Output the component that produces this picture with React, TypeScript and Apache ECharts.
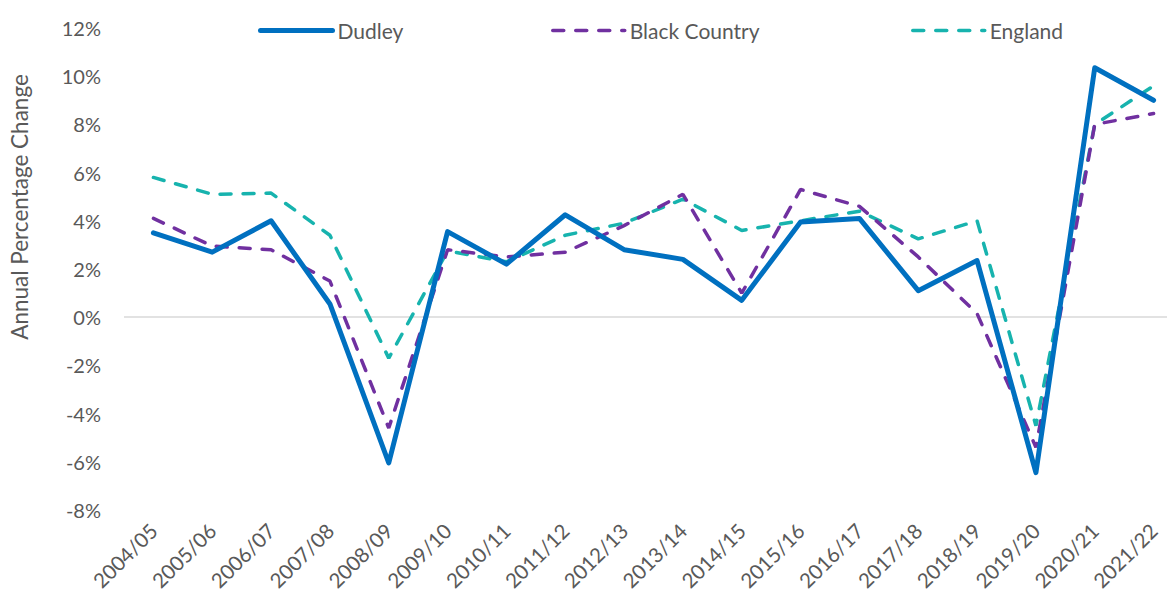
import React, { useEffect, useRef } from "react";
import * as echarts from "echarts";

const categories = [
  "2004/05", "2005/06", "2006/07", "2007/08", "2008/09", "2009/10",
  "2010/11", "2011/12", "2012/13", "2013/14", "2014/15", "2015/16",
  "2016/17", "2017/18", "2018/19", "2019/20", "2020/21", "2021/22",
];
const dudley = [3.5, 2.7, 4.0, 0.55, -6.05, 3.55, 2.2, 4.25, 2.8, 2.4, 0.7, 3.95, 4.1, 1.1, 2.35, -6.45, 10.35, 9.0];
const blackCountry = [4.1, 2.95, 2.8, 1.5, -4.6, 2.8, 2.5, 2.7, 3.8, 5.1, 1.0, 5.3, 4.6, 2.5, 0.15, -5.4, 8.0, 8.45];
const england = [5.8, 5.1, 5.15, 3.4, -1.7, 2.75, 2.3, 3.4, 3.9, 4.9, 3.6, 4.0, 4.4, 3.25, 4.0, -4.5, 8.0, 9.6];

const FONT = "Lato";
const GREY = "#595959";
const BLUE = "#0070C0";
const PURPLE = "#7030A0";
const TEAL = "#17B3AE";
const DASH = [11, 12];

function legendFor(name: string, left: number, width: number) {
  return {
    left,
    top: 15,
    itemWidth: 72,
    itemHeight: 20,
    itemStyle: { opacity: 0 },
    lineStyle: { width },
    textStyle: { fontFamily: FONT, fontSize: 21, color: GREY },
    data: [name],
  };
}

export default function App() {
  const ref = useRef<HTMLDivElement>(null);
  useEffect(() => {
    if (!ref.current) return;
    const chart = echarts.init(ref.current, null, { renderer: "svg" });
    chart.setOption({
      animation: false,
      backgroundColor: "#ffffff",
      textStyle: { fontFamily: FONT },
      grid: { left: 124, right: 0, top: 28, bottom: 88, containLabel: false },
      legend: [
        legendFor("Dudley", 253, 5),
        legendFor("Black Country", 546, 3.5),
        legendFor("England", 906, 3.5),
      ],
      graphic: [
        {
          type: "text",
          x: 19,
          y: 207,
          rotation: Math.PI / 2,
          style: {
            text: "Annual Percentage Change",
            fontFamily: FONT,
            fontSize: 22.5,
            fill: GREY,
            align: "center",
            verticalAlign: "middle",
          },
        },
      ],
      xAxis: {
        type: "category",
        data: categories,
        boundaryGap: true,
        axisLine: { show: false },
        axisTick: { show: false },
        splitLine: { show: false },
        axisLabel: {
          rotate: 45,
          interval: 0,
          margin: 17,
          fontFamily: FONT,
          fontSize: 20.5,
          color: GREY,
        },
      },
      yAxis: {
        type: "value",
        min: -8,
        max: 12,
        interval: 2,
        axisLine: { show: false },
        axisTick: { show: false },
        splitLine: { show: false },
        axisLabel: {
          formatter: "{value}%",
          margin: 23,
          fontFamily: FONT,
          fontSize: 20,
          color: GREY,
        },
      },
      series: [
        {
          name: "Dudley",
          type: "line",
          data: dudley,
          symbol: "none",
          z: 5,
          lineStyle: { color: BLUE, width: 5, cap: "round", join: "round" },
          itemStyle: { color: BLUE },
          markLine: {
            silent: true,
            symbol: "none",
            label: { show: false },
            lineStyle: { color: "#D9D9D9", width: 1.5, type: "solid" },
            data: [{ yAxis: 0 }],
            z: 1,
          },
        },
        {
          name: "Black Country",
          type: "line",
          data: blackCountry,
          symbol: "none",
          z: 4,
          lineStyle: { color: PURPLE, width: 3.5, type: DASH, cap: "round" },
          itemStyle: { color: PURPLE },
        },
        {
          name: "England",
          type: "line",
          data: england,
          symbol: "none",
          z: 3,
          lineStyle: { color: TEAL, width: 3.5, type: DASH, cap: "round" },
          itemStyle: { color: TEAL },
        },
      ],
    });
    return () => chart.dispose();
  }, []);
  return (
    <div
      ref={ref}
      style={{ position: "fixed", left: 0, top: 0, width: 1183, height: 598, background: "#fff" }}
    />
  );
}
